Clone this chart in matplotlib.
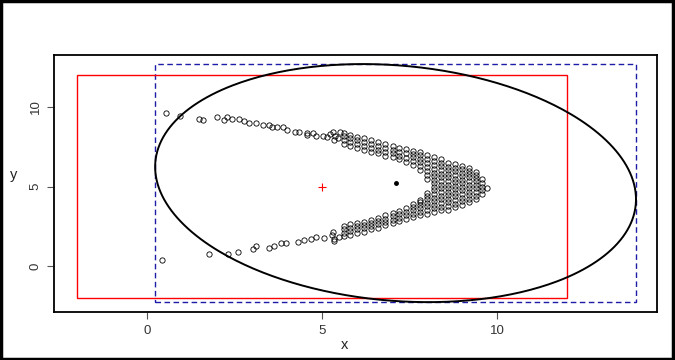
import numpy as np
import matplotlib
matplotlib.use("Agg")
import matplotlib.pyplot as plt
from matplotlib.patches import Rectangle

plt.rcParams['font.family'] = ['Liberation Sans', 'DejaVu Sans']

# ---------------- data ----------------
upper_arm_x = [0.53, 0.94, 1.47, 1.59, 1.99, 2.20, 2.28, 2.42, 2.64, 2.77, 2.90, 3.11,
               3.32, 3.49, 3.58, 3.72, 3.89, 3.99, 4.23, 4.35, 4.56, 4.58, 4.75, 4.82,
               5.02, 5.15, 5.23, 5.31, 5.37, 5.35, 5.45, 5.50]
upper_arm_y = [9.60, 9.45, 9.25, 9.18, 9.39, 9.18, 9.39, 9.25, 9.25, 9.14, 8.97, 8.97,
               8.87, 8.87, 8.72, 8.76, 8.76, 8.55, 8.45, 8.45, 8.35, 8.24, 8.35, 8.20,
               8.18, 8.13, 8.30, 8.43, 8.18, 7.92, 8.05, 8.40]

lower_arm_x = [0.42, 1.77, 2.31, 2.61, 3.04, 3.10, 3.47, 3.63, 3.83, 3.97, 4.32, 4.49,
               4.69, 4.83, 5.06, 5.28, 5.32, 5.34, 5.35, 5.47]
lower_arm_y = [0.38, 0.73, 0.73, 0.90, 1.05, 1.26, 1.11, 1.26, 1.43, 1.43, 1.51, 1.64,
               1.68, 1.80, 1.78, 1.95, 2.16, 1.68, 1.59, 1.85]

band_col_x = [5.62, 5.80, 6.01, 6.19, 6.41, 6.60, 6.79, 7.02, 7.20, 7.41, 7.60, 7.80,
              8.00, 8.20, 8.40, 8.60, 8.80, 9.00, 9.20, 9.40, 9.58]
band_col_y = [
    [7.66, 7.92, 8.15, 8.38, 1.86, 2.10, 2.30, 2.50],
    [7.56, 7.80, 8.04, 8.26, 1.95, 2.18, 2.40, 2.62],
    [7.44, 7.68, 7.92, 8.14, 2.06, 2.30, 2.50, 2.72],
    [7.32, 7.56, 7.80, 8.03, 2.16, 2.38, 2.60, 2.80],
    [7.20, 7.44, 7.68, 7.92, 2.30, 2.50, 2.72, 2.92],
    [7.08, 7.32, 7.56, 7.80, 2.42, 2.64, 2.85, 3.05],
    [6.95, 7.20, 7.44, 7.68, 2.55, 2.76, 2.98, 3.18],
    [6.83, 7.08, 7.32, 7.56, 2.70, 2.90, 3.12, 3.32],
    [6.70, 6.94, 7.20, 7.45, 2.85, 3.05, 3.26, 3.46],
    [6.55, 6.80, 7.08, 7.35, 2.98, 3.20, 3.42, 3.62],
    [6.35, 6.60, 6.85, 7.05, 7.24, 3.08, 3.30, 3.52, 3.72, 3.88],
    [6.05, 6.30, 6.52, 6.75, 6.96, 7.15, 3.20, 3.42, 3.62, 3.82, 4.00, 4.18],
    [5.50, 5.75, 6.00, 6.25, 6.50, 6.75, 7.00, 3.30, 3.52, 3.75, 3.98, 4.20, 4.42, 4.62],
    [3.40, 3.62, 3.85, 4.08, 4.30, 4.52, 4.75, 4.98, 5.20, 5.42, 5.65, 5.88, 6.10, 6.35, 6.60, 6.85],
    [3.50, 3.73, 3.96, 4.19, 4.42, 4.65, 4.88, 5.11, 5.34, 5.57, 5.80, 6.03, 6.26, 6.49, 6.72],
    [3.55, 3.78, 4.00, 4.22, 4.45, 4.68, 4.90, 5.12, 5.35, 5.58, 5.80, 6.02, 6.25, 6.50],
    [3.70, 3.92, 4.15, 4.38, 4.60, 4.82, 5.05, 5.28, 5.50, 5.72, 5.95, 6.18, 6.40],
    [3.85, 4.08, 4.30, 4.52, 4.75, 4.98, 5.20, 5.42, 5.65, 5.88, 6.10, 6.30],
    [4.00, 4.22, 4.45, 4.68, 4.90, 5.12, 5.35, 5.58, 5.80, 6.00, 6.15],
    [4.20, 4.42, 4.65, 4.88, 5.10, 5.32, 5.55, 5.75, 5.92],
    [4.50, 4.75, 5.00, 5.25, 5.50],
]
tip_x = [9.71]
tip_y = [4.89]

red_rect = (-2.0, -2.0, 12.0, 12.0)          # xmin, ymin, xmax, ymax
red_center = (5.0, 5.0)
ell_center = (7.10, 5.215)
ell_sx, ell_sy, ell_cxy = 6.87, 7.485, -7.0   # sqrt var x, sqrt var y, covariance

x_ticks = [0, 5, 10]
y_ticks = [0, 5, 10]

# ---------------- assemble points ----------------
px = list(upper_arm_x) + list(lower_arm_x) + list(tip_x)
py = list(upper_arm_y) + list(lower_arm_y) + list(tip_y)
for cx, ys in zip(band_col_x, band_col_y):
    px += [cx] * len(ys)
    py += ys

# ---------------- figure ----------------
W, H = 675, 360
fig = plt.figure(figsize=(W / 100, H / 100), dpi=100)
ax = fig.add_axes([54 / W, 1 - 312 / H, (657 - 54) / W, (312 - 55) / H])

ax.plot(px, py, linestyle="none", marker="o", markersize=3.8,
        markerfacecolor="none", markeredgecolor="black", markeredgewidth=0.6)

# ellipse
t = np.linspace(0, 2 * np.pi, 400)
L11 = ell_sx
L21 = ell_cxy / ell_sx
L22 = np.sqrt(ell_sy ** 2 - L21 ** 2)
ex = ell_center[0] + L11 * np.cos(t)
ey = ell_center[1] + L21 * np.cos(t) + L22 * np.sin(t)
ax.plot(ex, ey, color="black", lw=1.4)

# bounding box of ellipse (blue dashed)
ax.add_patch(Rectangle((ell_center[0] - ell_sx, ell_center[1] - ell_sy),
                       2 * ell_sx, 2 * ell_sy, fill=False,
                       edgecolor="#1c1ca8", lw=1.0, linestyle=(0, (4, 2.5))))
# red rectangle
ax.add_patch(Rectangle((red_rect[0], red_rect[1]), red_rect[2] - red_rect[0],
                       red_rect[3] - red_rect[1], fill=False,
                       edgecolor="#ff0000", lw=1.0))
ax.plot([red_center[0]], [red_center[1]], marker="+", color="red",
        markersize=6, markeredgewidth=0.8, linestyle="none")
ax.plot([ell_center[0]], [ell_center[1]], marker="o", color="black",
        markersize=2.5, linestyle="none")

ax.set_xlim(-2.66, 14.57)
ax.set_ylim(-2.89, 13.27)
ax.set_xticks(x_ticks)
ax.set_yticks(y_ticks)
ax.set_xticklabels([str(v) for v in x_ticks], fontsize=9.5, color="#333333")
ax.set_yticklabels([str(v) for v in y_ticks], fontsize=9.5, color="#333333",
                   rotation=90, va="center")
ax.tick_params(axis="both", direction="out", length=5, width=0.8, color="#555555",
               pad=4)
for s in ax.spines.values():
    s.set_linewidth(1.3)
    s.set_color("black")

fig.text(345 / W, 1 - 345 / H, "x", fontsize=10.5, color="#222222",
         ha="center", va="center")
fig.text(14 / W, 1 - 175 / H, "y", fontsize=10.5, color="#222222",
         ha="center", va="center")

# outer frame of the image
fig.add_artist(Rectangle((0.002, 0.004), 0.995, 0.992, transform=fig.transFigure,
                         fill=False, edgecolor="black", lw=2.5))

fig.savefig("out.png", dpi=100)
